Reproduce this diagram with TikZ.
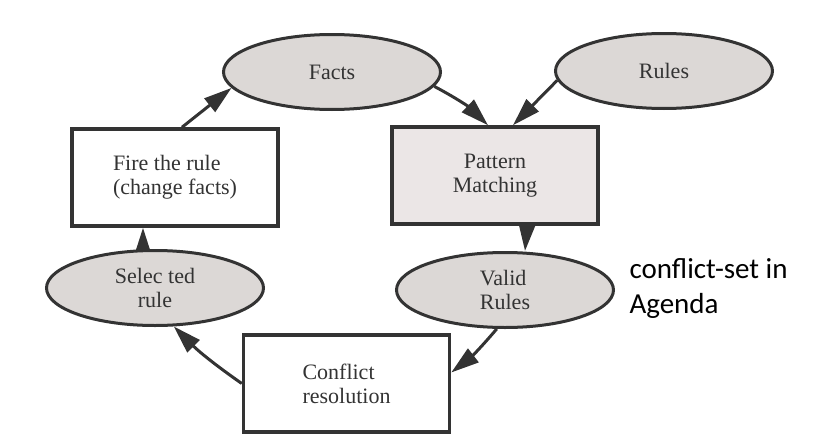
\documentclass[tikz,border=0pt]{standalone}
\usepackage{fontspec}
\setmainfont{Liberation Serif}
\newfontfamily\notefont{Carlito}
\usetikzlibrary{arrows.meta, shapes.geometric, backgrounds}

\definecolor{linegray}{HTML}{333333}
\definecolor{ovalfill}{HTML}{DCD8D6}
\definecolor{boxfill}{HTML}{EBE6E6}

\begin{document}
\begin{tikzpicture}[x=1pt, y=-1pt,
    every node/.style={text=linegray, font=\fontsize{22}{24}\selectfont},
    oval/.style={ellipse, draw=linegray, fill=ovalfill, line width=3pt,
                 inner sep=0pt, minimum width=217pt, minimum height=75pt, align=center},
    box/.style={rectangle, draw=linegray, fill=white, line width=3.5pt,
                minimum width=206pt, minimum height=97pt}]

    \useasboundingbox (0, 0) rectangle (813, 447);

        % Draw the states
        \node[oval] at (332, 72)      (facts)    {Facts};
        \node[oval] at (664, 71)      (rules)    {Rules};
        \node[box, fill=boxfill, align=center] at (495, 175.5) (pm) {Pattern\\Matching};
        \node[oval, align=left] at (505, 290)     (valid)    {Valid\\Rules};
        \node[box, align=left] at (346.5, 383.5)  (conflict) {Conflict\\resolution};
        \node[oval] at (155, 288)     (selected) {Selec ted\\rule};
        \node[box, align=left] at (175, 177.5)    (fire)     {Fire the rule\\(change facts)};

        % Note beside the valid rules
        \node[anchor=base west, align=left, text=black,
              font=\notefont\fontsize{29}{35}\selectfont] at (626, 313) (agenda)
            {conflict-set in\\Agenda};

        % Connect the states with arrows (behind the states)
        \begin{scope}[on background layer]
        \draw[linegray,
              line width=3pt,
              -{Triangle[length=28pt, width=17pt]}]
            ([xshift=7pt]fire.north)     edge                (facts.189)
            (facts.352)                  edge[bend left=8]   ([xshift=-7pt]pm.north)
            (rules.185)                  edge                ([xshift=18pt]pm.north)
            ([xshift=32pt]pm.south)      edge                ([xshift=20pt]valid.north)
            (valid.258)                  edge[bend left=6]   ([yshift=11pt]conflict.east)
            (conflict.west)              edge[bend left=5]   (selected.296)
            ([xshift=-12pt]selected.center) edge             ([xshift=-32pt]fire.south);
        \end{scope}
    \end{tikzpicture}
\end{document}
